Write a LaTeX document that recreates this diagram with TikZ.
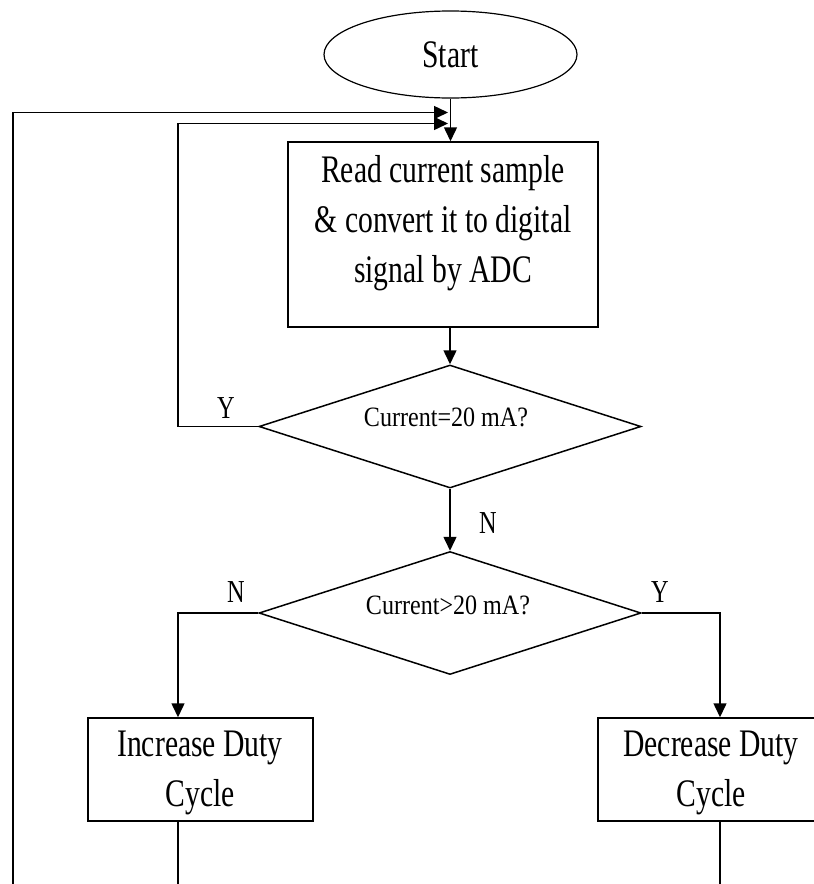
\documentclass[tikz,border=0pt]{standalone}
\usepackage{fontspec}
\setmainfont{Liberation Serif}
\newfontfamily\condfont[FakeStretch=0.76]{Liberation Serif}
\newfontfamily\semifont[FakeStretch=0.86]{Liberation Serif}
\usetikzlibrary{shapes.geometric,arrows.meta}
\begin{document}
\begin{tikzpicture}[x=1pt,y=-1pt,
  ln/.style={line width=1.5pt},
  arr/.style={line width=1.5pt,-{Triangle[length=14pt,width=13pt]}},
  boxnode/.style={draw,line width=1.5pt,rectangle,inner sep=0pt},
  dia/.style={draw,line width=1.5pt,diamond,inner sep=0pt,minimum width=382pt,minimum height=123pt},
  txt/.style={inner sep=0pt,align=center,font=\condfont\fontsize{39}{50}\selectfont},
  small/.style={inner sep=0pt,font=\semifont\fontsize{28}{30}\selectfont},
  lab/.style={inner sep=0pt,font=\condfont\fontsize{32}{34}\selectfont}]
\useasboundingbox (0,0) rectangle (814,884);
\clip (0,0) rectangle (814,884);
% nodes
\node[draw,ellipse,line width=1.2pt,inner sep=0pt,minimum width=253pt,minimum height=87pt,font=\condfont\fontsize{39}{40}\selectfont] (start) at (450.5,54.5) {Start};
\node[boxnode,minimum width=310pt,minimum height=185pt] (read) at (443,234.5) {};
\node[txt] (readtxt) at (443,223.5) {Read current sample\\\& convert it to digital\\signal by ADC};
\node[dia] (d1) at (450,426.5) {};
\node[small] (d1t) at (446,417) {Current=20 mA?};
\node[dia] (d2) at (450,613) {};
\node[small] (d2t) at (448,605) {Current>20 mA?};
\node[boxnode,minimum width=225pt,minimum height=103pt] (inc) at (200.5,769.5) {};
\node[txt] (inct) at (200,773) {Increase Duty\\Cycle};
\node[boxnode,minimum width=225pt,minimum height=103pt] (decb) at (710.5,769.5) {};
\node[txt] (dect) at (711,773) {Decrease Duty\\Cycle};
% labels
\node[lab] (y1) at (226,408) {Y};
\node[lab] (n1) at (488,523) {N};
\node[lab] (n2) at (236,592) {N};
\node[lab] (y2) at (660,592) {Y};
% helper coordinates
\coordinate (j1) at (448,112.5);
\coordinate (j2) at (448,123.5);
\coordinate (b1) at (13,892);
\coordinate (lx) at (178,0);
\coordinate (rx) at (720,0);
% connectors
\draw[arr] (start.south) -- (start.south |- read.north);
\draw[arr] (d1.north |- read.south) -- (d1.north);
\draw[arr] (d1.south) -- (d2.north);
\draw[arr] (b1) |- (j1);
\draw[arr] (d1.west) -| (lx |- j2) -- (j2);
\draw[arr] (d2.west) -| (lx |- inc.north);
\draw[arr] (d2.east) -| (rx |- decb.north);
\draw[ln] (lx |- inc.south) -- (lx |- b1);
\draw[ln] (rx |- decb.south) -- (rx |- b1);
\end{tikzpicture}
\end{document}
